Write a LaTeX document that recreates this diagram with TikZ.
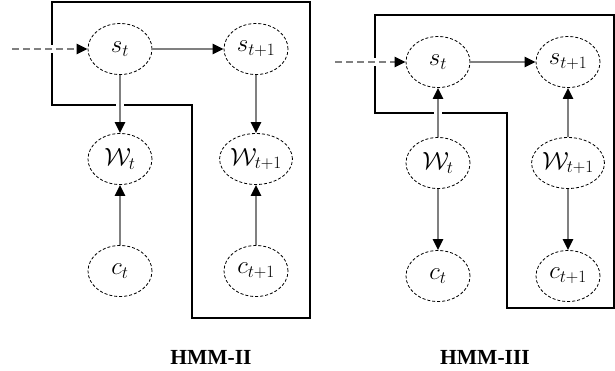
\documentclass[tikz,border=0pt]{standalone}
\usepackage{fontspec}
\newfontfamily\lblfont{Liberation Serif}
\usetikzlibrary{arrows.meta,shapes.geometric}
\begin{document}
\begin{tikzpicture}[x=1pt,y=-1pt,
  var/.style={draw, densely dashed, line width=0.8pt, ellipse, minimum width=64pt, minimum height=51pt, inner sep=0pt, font=\fontsize{23}{23}\selectfont},
  edge/.style={draw=black!50, line width=2.2pt, -{Triangle[length=11pt,width=10pt,color=black]},
     preaction={draw=white, line width=8pt, shorten <=7pt, shorten >=7pt, -}},
  dashedge/.style={edge, dash pattern=on 7pt off 4pt},
  frame/.style={draw, line width=1.1pt},
  caplabel/.style={font=\lblfont\bfseries\fontsize{21.5}{21.5}\selectfont}]
\useasboundingbox (0,0) rectangle (615,370);
% left frame
\draw[frame] (52,2) -- (310,2) -- (310,318) -- (192,318) -- (192,105) -- (52,105) -- cycle;
% right frame
\draw[frame] (375,15) -- (614,15) -- (614,308) -- (507,308) -- (507,113) -- (375,113) -- cycle;
% left nodes
\node[var] (Ls)  at (120,49)  {$s_t$};
\node[var] (Ls1) at (256,49)  {$s_{t+1}$};
\node[var] (Lw)  at (120,159) {$\mathcal{W}_t$};
\node[var] (Lw1) at (256,159) {$\mathcal{W}_{t+1}$};
\node[var] (Lc)  at (120,271) {$c_t$};
\node[var] (Lc1) at (256,271) {$c_{t+1}$};
\coordinate (Lin) at (12,49);
% right nodes
\node[var] (Rs)  at (438,62)  {$s_t$};
\node[var] (Rs1) at (568,62)  {$s_{t+1}$};
\node[var] (Rw)  at (438,163) {$\mathcal{W}_t$};
\node[var] (Rw1) at (568,163) {$\mathcal{W}_{t+1}$};
\node[var] (Rc)  at (438,276) {$c_t$};
\node[var] (Rc1) at (568,276) {$c_{t+1}$};
\coordinate (Rin) at (335,62);
% left edges
\draw[dashedge] (Lin) -- (Ls);
\draw[edge] (Ls) -- (Ls1);
\draw[edge] (Ls) -- (Lw);
\draw[edge] (Ls1) -- (Lw1);
\draw[edge] (Lc) -- (Lw);
\draw[edge] (Lc1) -- (Lw1);
% right edges
\draw[dashedge] (Rin) -- (Rs);
\draw[edge] (Rs) -- (Rs1);
\draw[edge] (Rw) -- (Rs);
\draw[edge] (Rw1) -- (Rs1);
\draw[edge] (Rw) -- (Rc);
\draw[edge] (Rw1) -- (Rc1);
% captions
\node[caplabel] (capL) at (211,357) {HMM-II};
\node[caplabel] (capR) at (485,357) {HMM-III};
\end{tikzpicture}
\end{document}
